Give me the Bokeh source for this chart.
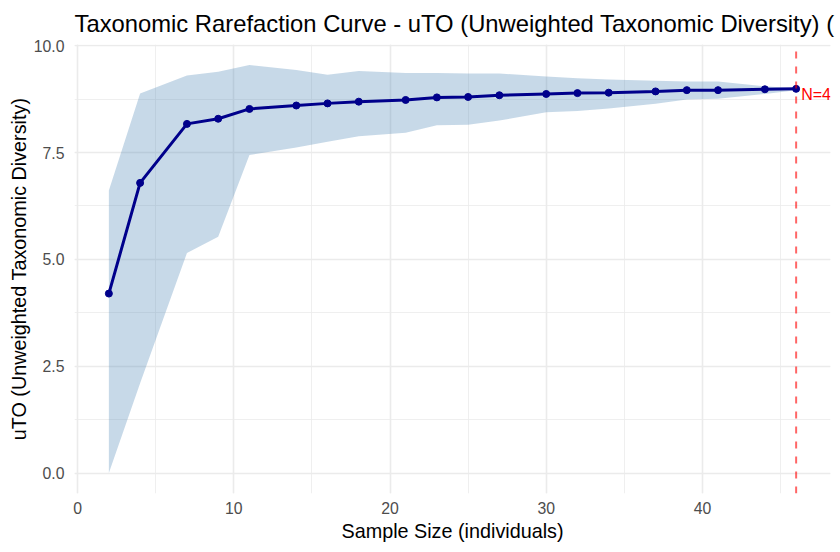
from bokeh.plotting import figure
from bokeh.models import ColumnDataSource, SingleIntervalTicker, NumeralTickFormatter, Range1d
from bokeh.core.properties import value
from bokeh.embed import file_html
from bokeh.resources import INLINE

# Rarefaction results: mean uTO and interval bounds per sample size
sample_size = [2, 4, 7, 9, 11, 14, 16, 18, 21, 23, 25, 27, 30, 32, 34, 37, 39, 41, 44, 46]
uto_mean = [4.20, 6.79, 8.17, 8.29, 8.52, 8.60, 8.65, 8.69, 8.73, 8.79,
            8.80, 8.84, 8.87, 8.89, 8.90, 8.93, 8.96, 8.96, 8.98, 8.99]
uto_upper = [6.61, 8.88, 9.30, 9.39, 9.55, 9.43, 9.32, 9.41, 9.36, 9.36,
             9.35, 9.35, 9.28, 9.24, 9.21, 9.18, 9.16, 9.16, 9.05, 9.00]
uto_lower = [0.00, 2.10, 5.15, 5.53, 7.44, 7.62, 7.75, 7.88, 7.96, 8.14,
             8.15, 8.25, 8.44, 8.47, 8.53, 8.64, 8.74, 8.76, 8.87, 8.96]
total_n = 46

FONT = "Liberation Sans"

src = ColumnDataSource(dict(x=sample_size, y=uto_mean, lo=uto_lower, hi=uto_upper))

# 5% padding around the data extent on both axes
x_lo, x_hi = min(sample_size), max(sample_size)
y_lo, y_hi = min(uto_lower), max(uto_upper)
x_pad = 0.05 * (x_hi - x_lo)
y_pad = 0.05 * (y_hi - y_lo)
x_range = Range1d(x_lo - x_pad, x_hi + x_pad)
y_range = Range1d(y_lo - y_pad, y_hi + y_pad)

p = figure(width=840, height=552, output_backend="svg", toolbar_location=None,
           x_range=x_range, y_range=y_range,
           min_border_left=74, min_border_right=10, min_border_top=43, min_border_bottom=59,
           title="Taxonomic Rarefaction Curve - uTO (Unweighted Taxonomic Diversity) (")
p.outline_line_color = None
p.background_fill_color = "white"
p.border_fill_color = "white"

p.title.text_font = FONT
p.title.text_font_size = "23.8px"
p.title.text_font_style = "normal"
p.title.text_color = "black"
p.title.align = "left"
p.title.offset = 0
p.title.standoff = 15

# axes
p.xaxis.ticker = SingleIntervalTicker(interval=10, num_minor_ticks=2)
p.yaxis.ticker = SingleIntervalTicker(interval=2.5, num_minor_ticks=2)
p.yaxis.formatter = NumeralTickFormatter(format="0.0")
p.xaxis.axis_label = "Sample Size (individuals)"
p.yaxis.axis_label = "uTO (Unweighted Taxonomic Diversity)"
for ax in (p.xaxis, p.yaxis):
    ax.axis_line_color = None
    ax.major_tick_line_color = None
    ax.minor_tick_line_color = None
    ax.major_tick_out = 0
    ax.major_tick_in = 0
    ax.minor_tick_out = 0
    ax.major_label_text_font = FONT
    ax.major_label_text_font_size = "15.8px"
    ax.major_label_text_color = "#4D4D4D"
    ax.axis_label_text_font = FONT
    ax.axis_label_text_font_size = "19.8px"
    ax.axis_label_text_font_style = "normal"
    ax.axis_label_text_color = "black"
p.xaxis.major_label_standoff = 8
p.yaxis.major_label_standoff = 10
p.xaxis.axis_label_standoff = 3
p.yaxis.axis_label_standoff = 1

# grid
for g in (p.xgrid, p.ygrid):
    g.grid_line_color = "#EBEBEB"
    g.grid_line_width = 1.6
    g.minor_grid_line_color = "#EBEBEB"
    g.minor_grid_line_width = 0.8

# interval ribbon
p.varea(x="x", y1="lo", y2="hi", source=src, fill_color="steelblue", fill_alpha=0.3)

# mean curve
p.line(x="x", y="y", source=src, line_color="darkblue", line_width=3)
p.scatter(x="x", y="y", source=src, size=7, color="darkblue")

# full sample size marker
p.segment(x0=[total_n], y0=[y_range.start], x1=[total_n], y1=[y_range.end],
          line_color="red", line_alpha=0.6, line_width=2, line_dash="7 8")
p.text(x=[total_n], y=[uto_mean[-1]], text=[f"N={total_n}"],
       text_font=value(FONT), text_font_size=value("16px"), text_color="red",
       text_align="left", text_baseline="middle", x_offset=5, y_offset=6)

open("out.html", "w").write(file_html(p, INLINE))
